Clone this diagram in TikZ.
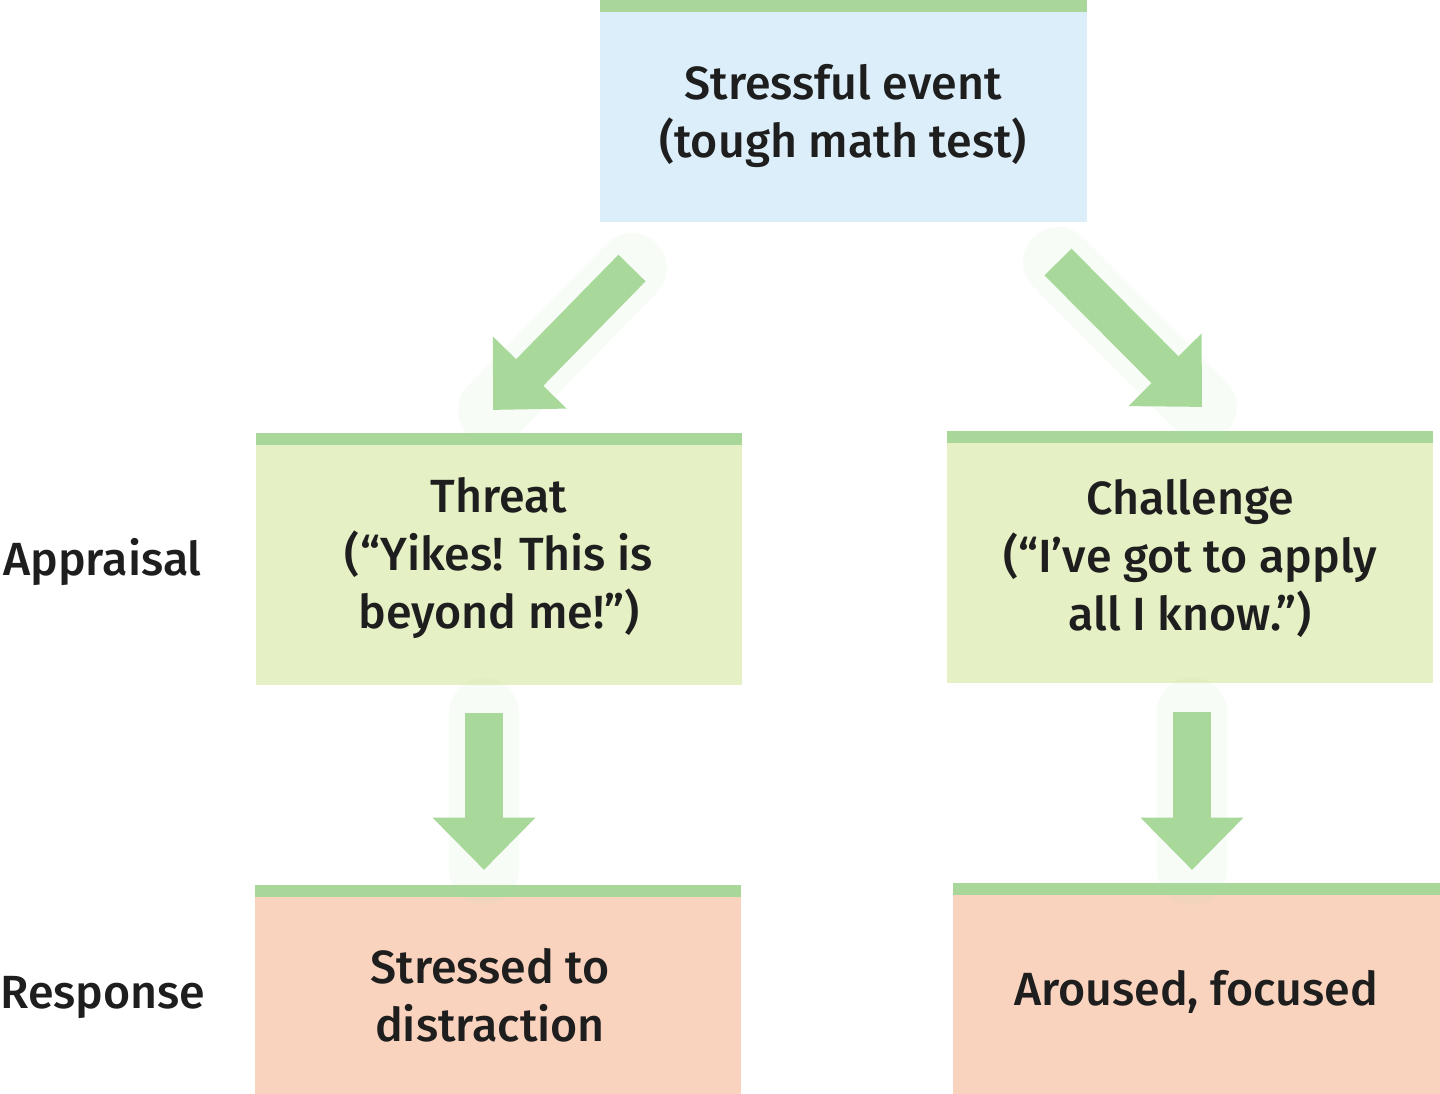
\documentclass[tikz,border=0pt]{standalone}
\usepackage{fontspec}
\setmainfont{Fira Sans}[UprightFont=* Medium]
\usetikzlibrary{arrows.meta}
\definecolor{bar}{HTML}{A9D79A}
\definecolor{blue}{HTML}{DCEEF9}
\definecolor{lime}{HTML}{E5F0C5}
\definecolor{peach}{HTML}{F9D3BE}
\definecolor{arr}{HTML}{A8D89A}
\definecolor{txt}{HTML}{1E1E1E}
\begin{document}
\begin{tikzpicture}[x=0.02cm,y=-0.02cm,
  box/.style={inner sep=0pt,align=center,text=txt,font=\fontsize{26.5}{33}\selectfont},
  big/.style={-{Triangle[length=1.05cm,width=2cm]},line width=0.76cm,draw=arr},
  glow/.style={line width=1.4cm,draw=arr,opacity=0.08,line cap=round},
  lab/.style={text=txt,font=\fontsize{26.5}{33}\selectfont}]
\useasboundingbox (0,0) rectangle (1440,1094);
% boxes
\fill[blue] (600,0) rectangle (1087,222);
\fill[bar] (600,0) rectangle (1087,12);
\fill[lime] (256,433) rectangle (742,685);
\fill[bar] (256,433) rectangle (742,445);
\fill[lime] (947,431) rectangle (1433,683);
\fill[bar] (947,431) rectangle (1433,443);
\fill[peach] (255,885) rectangle (741,1094);
\fill[bar] (255,885) rectangle (741,897);
\fill[peach] (953,883) rectangle (1440,1094);
\fill[bar] (953,883) rectangle (1440,895);
\node[box] (ev) at (843,116) {Stressful event\\(tough math test)};
\node[box] (th) at (499,558) {Threat\\(“Yikes! This is\\beyond me!”)};
\node[box] (ch) at (1190,558) {Challenge\\(“I've got to apply\\all I know.”)};
\node[box] (st) at (490,995) {Stressed to\\distraction};
\node[box] (ar) at (1196,992) {Aroused, focused};
\node[lab,anchor=west,inner sep=0pt] (ap) at (3,562) {Appraisal};
\node[lab,anchor=west,inner sep=0pt] (rs) at (0,997) {Response};
% arrows
\coordinate (a1s) at (632,268); \coordinate (a1e) at (493,410);
\coordinate (a2s) at (1058,262); \coordinate (a2e) at (1202,407);
\coordinate (a3s) at (484,713); \coordinate (a3e) at (484,870);
\coordinate (a4s) at (1192,712); \coordinate (a4e) at (1192,870);
\foreach \s/\e in {a1s/a1e,a2s/a2e,a3s/a3e,a4s/a4e}{
  \draw[glow] (\s) -- (\e);
  \draw[big] (\s) -- (\e);}
\end{tikzpicture}
\end{document}
